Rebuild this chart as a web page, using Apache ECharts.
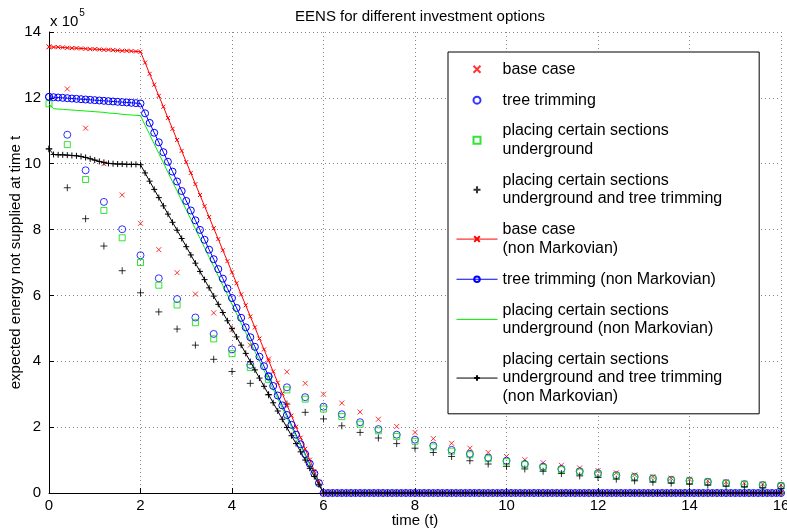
<!DOCTYPE html>
<html>
<head>
<meta charset="utf-8">
<script src="https://cdn.jsdelivr.net/npm/echarts@6/dist/echarts.min.js"></script>
<style>
  html, body { margin: 0; padding: 0; background: #fff; }
  #chart { width: 787px; height: 532px; }
</style>
</head>
<body>
<div id="chart"></div>
<script>
// values in units of 10^5
var fineStep = 0.1;
var markovStep = 0.4;

// Markovian results, t = 0, 0.4, ..., 16
var baseMarkov = [13.55, 12.27, 11.08, 10.00, 9.05, 8.19, 7.39, 6.69, 6.04, 5.47,
    4.96, 4.49, 4.07, 3.68, 3.33, 3.00, 2.73, 2.46, 2.24, 2.02,
    1.84, 1.65, 1.51, 1.36, 1.23, 1.11, 1.01, 0.92, 0.84, 0.76,
    0.68, 0.61, 0.55, 0.50, 0.45, 0.42, 0.37, 0.34, 0.30, 0.27, 0.24];
var treeMarkov = [12.03, 10.88, 9.80, 8.84, 8.01, 7.22, 6.52, 5.89, 5.33, 4.83,
    4.36, 3.89, 3.53, 3.21, 2.91, 2.62, 2.39, 2.15, 1.94, 1.77,
    1.62, 1.44, 1.31, 1.19, 1.07, 0.98, 0.88, 0.80, 0.73, 0.66,
    0.60, 0.54, 0.49, 0.44, 0.40, 0.37, 0.34, 0.30, 0.27, 0.24, 0.22];
var undergroundMarkov = [11.82, 10.58, 9.52, 8.58, 7.75, 7.00, 6.31, 5.71, 5.17, 4.68,
    4.23, 3.81, 3.45, 3.13, 2.85, 2.55, 2.32, 2.09, 1.89, 1.72,
    1.57, 1.40, 1.27, 1.16, 1.04, 0.95, 0.86, 0.78, 0.71, 0.64,
    0.58, 0.53, 0.48, 0.43, 0.39, 0.36, 0.33, 0.29, 0.26, 0.24, 0.21];
var bothMarkov = [10.45, 9.27, 8.33, 7.50, 6.75, 6.08, 5.50, 4.98, 4.49, 4.06,
    3.69, 3.33, 2.98, 2.70, 2.45, 2.25, 2.04, 1.84, 1.67, 1.50,
    1.36, 1.23, 1.11, 0.98, 0.88, 0.81, 0.73, 0.66, 0.59, 0.52,
    0.47, 0.42, 0.37, 0.33, 0.30, 0.27, 0.24, 0.21, 0.19, 0.16, 0.14];

// non Markovian results, t = 0 ... 5.9 (step 0.1)
var baseLine = [13.55, 13.54, 13.54, 13.53, 13.52, 13.51, 13.51, 13.50, 13.49, 13.48,
    13.48, 13.47, 13.46, 13.46, 13.45, 13.44, 13.43, 13.43, 13.42, 13.41,
    13.40, 13.07, 12.73, 12.40, 12.06, 11.73, 11.39, 11.06, 10.72, 10.39,
    10.05, 9.72, 9.38, 9.05, 8.71, 8.38, 8.04, 7.71, 7.37, 7.04,
    6.70, 6.37, 6.03, 5.70, 5.36, 5.03, 4.69, 4.36, 4.02, 3.69,
    3.35, 3.02, 2.68, 2.35, 2.01, 1.68, 1.34, 1.01, 0.67, 0.34];
var treeLine = [12.03, 12.02, 12.01, 12.00, 11.99, 11.98, 11.97, 11.96, 11.95, 11.94,
    11.93, 11.92, 11.91, 11.90, 11.89, 11.88, 11.87, 11.86, 11.85, 11.84,
    11.83, 11.53, 11.24, 10.94, 10.65, 10.35, 10.06, 9.76, 9.46, 9.17,
    8.87, 8.58, 8.28, 7.99, 7.69, 7.39, 7.10, 6.80, 6.51, 6.21,
    5.92, 5.62, 5.32, 5.03, 4.73, 4.44, 4.14, 3.85, 3.55, 3.25,
    2.96, 2.66, 2.37, 2.07, 1.77, 1.48, 1.18, 0.89, 0.59, 0.30];
var undergroundLine = [11.82, 11.67, 11.66, 11.65, 11.64, 11.63, 11.62, 11.61, 11.60, 11.59,
    11.58, 11.57, 11.56, 11.54, 11.53, 11.52, 11.50, 11.49, 11.48, 11.47,
    11.46, 11.17, 10.89, 10.60, 10.31, 10.03, 9.74, 9.45, 9.17, 8.88,
    8.60, 8.31, 8.02, 7.74, 7.45, 7.16, 6.88, 6.59, 6.30, 6.02,
    5.73, 5.44, 5.16, 4.87, 4.58, 4.30, 4.01, 3.72, 3.44, 3.15,
    2.87, 2.58, 2.29, 2.01, 1.72, 1.43, 1.15, 0.86, 0.57, 0.29];
var bothLine = [10.45, 10.28, 10.27, 10.27, 10.26, 10.25, 10.24, 10.22, 10.19, 10.15,
    10.11, 10.07, 10.04, 10.01, 10.00, 9.99, 9.99, 9.98, 9.98, 9.98,
    9.97, 9.72, 9.47, 9.22, 8.97, 8.72, 8.47, 8.22, 7.98, 7.73,
    7.48, 7.23, 6.98, 6.73, 6.48, 6.23, 5.98, 5.73, 5.48, 5.23,
    4.99, 4.74, 4.49, 4.24, 3.99, 3.74, 3.49, 3.24, 2.99, 2.74,
    2.49, 2.24, 1.99, 1.74, 1.50, 1.25, 1.00, 0.75, 0.50, 0.25];
// t = 6.0 ... 16.0, every non Markovian curve is zero there
var zeroTail = [0, 0, 0, 0, 0, 0, 0, 0, 0, 0, 0, 0, 0, 0, 0, 0, 0, 0, 0, 0,
    0, 0, 0, 0, 0, 0, 0, 0, 0, 0, 0, 0, 0, 0, 0, 0, 0, 0, 0, 0,
    0, 0, 0, 0, 0, 0, 0, 0, 0, 0, 0, 0, 0, 0, 0, 0, 0, 0, 0, 0,
    0, 0, 0, 0, 0, 0, 0, 0, 0, 0, 0, 0, 0, 0, 0, 0, 0, 0, 0, 0,
    0, 0, 0, 0, 0, 0, 0, 0, 0, 0, 0, 0, 0, 0, 0, 0, 0, 0, 0, 0, 0];

var names = [
    'base case',
    'tree trimming',
    'placing certain sections\nunderground',
    'placing certain sections\nunderground and tree trimming',
    'base case\n(non Markovian)',
    'tree trimming (non Markovian)',
    'placing certain sections\nunderground (non Markovian)',
    'placing certain sections\nunderground and tree trimming\n(non Markovian)'
];

var FONT = "'Liberation Sans', Arial, Helvetica, sans-serif";
var crossPath = 'path://M0,0L10,10M10,0L0,10';
var plusPath = 'path://M5,0L5,10M0,5L10,5';
var squarePath = 'path://M0,0L10,0L10,10L0,10Z';

function toPairs(step, values) {
    return values.map(function (v, i) {
        return [Math.round(i * step * 10) / 10, v];
    });
}

function markovSeries(name, values, symbol, size, color) {
    return {
        name: name,
        type: 'scatter',
        data: toPairs(markovStep, values),
        symbol: symbol,
        symbolSize: size,
        itemStyle: { color: 'rgba(0,0,0,0)', borderColor: color, borderWidth: 1 },
        emphasis: { disabled: true },
        z: 2
    };
}

function lineSeries(name, values, symbol, size, color) {
    return {
        name: name,
        type: 'line',
        data: toPairs(fineStep, values.concat(zeroTail)),
        symbol: symbol,
        symbolSize: size,
        showSymbol: symbol !== 'none',
        showAllSymbol: true,
        lineStyle: { color: color, width: 1 },
        itemStyle: { color: 'rgba(0,0,0,0)', borderColor: color, borderWidth: 1 },
        emphasis: { disabled: true },
        z: 3
    };
}

var myChart = echarts.init(document.getElementById('chart'), null, { renderer: 'canvas' });

var option = {
    animation: false,
    backgroundColor: '#fff',
    textStyle: { fontFamily: FONT },
    title: {
        text: 'EENS for different investment options',
        left: 415,
        textAlign: 'center',
        top: 4,
        textStyle: { fontFamily: FONT, fontSize: 15, fontWeight: 'normal', color: '#000' }
    },
    graphic: [{
        type: 'text',
        left: 50,
        top: 8,
        style: {
            text: '{a|x 10}{b|5}',
            rich: {
                a: { fontFamily: FONT, fontSize: 15, color: '#000', padding: [6, 0, 0, 0] },
                b: { fontFamily: FONT, fontSize: 10, color: '#000', verticalAlign: 'top', padding: [0, 0, 0, 1] }
            }
        }
    }],
    grid: { left: 49, right: 6, top: 32, bottom: 39, containLabel: false, outerBoundsMode: 'none' },
    legend: {
        orient: 'vertical',
        left: 448,
        top: 52,
        padding: [8, 37, 8, 8],
        itemGap: 12.4,
        itemWidth: 41,
        itemHeight: 7,
        selectedMode: false,
        backgroundColor: '#fff',
        borderColor: '#000',
        borderWidth: 1,
        lineStyle: { width: 1 },
        textStyle: { fontFamily: FONT, fontSize: 16, color: '#000', lineHeight: 18.5 },
        data: [
            names[0], names[1], names[2], names[3], names[4], names[5],
            { name: names[6], itemStyle: { borderWidth: 0, borderColor: 'rgba(0,0,0,0)' } },
            names[7]
        ]
    },
    xAxis: {
        type: 'value',
        min: 0,
        max: 16,
        interval: 2,
        name: 'time (t)',
        nameLocation: 'middle',
        nameGap: 20,
        nameMoveOverlap: false,
        nameTextStyle: { fontFamily: FONT, fontSize: 15, color: '#000' },
        axisLine: { lineStyle: { color: '#000', width: 1 } },
        axisTick: { inside: true, length: 5, lineStyle: { color: '#000' } },
        axisLabel: { fontFamily: FONT, fontSize: 15, color: '#000', margin: 5 },
        splitLine: { show: true, lineStyle: { color: '#888', type: [1, 3], width: 1 } }
    },
    yAxis: {
        type: 'value',
        min: 0,
        max: 14,
        interval: 2,
        name: 'expected energy not supplied at time t',
        nameLocation: 'middle',
        nameGap: 26,
        nameMoveOverlap: false,
        nameTextStyle: { fontFamily: FONT, fontSize: 15, color: '#000' },
        axisLine: { show: true, lineStyle: { color: '#000', width: 1 } },
        axisTick: { show: true, inside: true, length: 5, lineStyle: { color: '#000' } },
        axisLabel: { fontFamily: FONT, fontSize: 15, color: '#000', margin: 8 },
        splitLine: { show: true, lineStyle: { color: '#888', type: [1, 3], width: 1 } }
    },
    series: [
        markovSeries(names[0], baseMarkov, crossPath, 5, '#ff0000'),
        markovSeries(names[1], treeMarkov, 'circle', 7, '#0000ff'),
        markovSeries(names[2], undergroundMarkov, squarePath, 6, '#00dd00'),
        markovSeries(names[3], bothMarkov, plusPath, 7, '#000000'),
        lineSeries(names[4], baseLine, crossPath, 4, '#ff0000'),
        lineSeries(names[5], treeLine, 'circle', 7, '#0000ff'),
        lineSeries(names[6], undergroundLine, 'none', 0, '#00ee00'),
        lineSeries(names[7], bothLine, plusPath, 6, '#000000')
    ]
};

option && myChart.setOption(option);
</script>
</body>
</html>
